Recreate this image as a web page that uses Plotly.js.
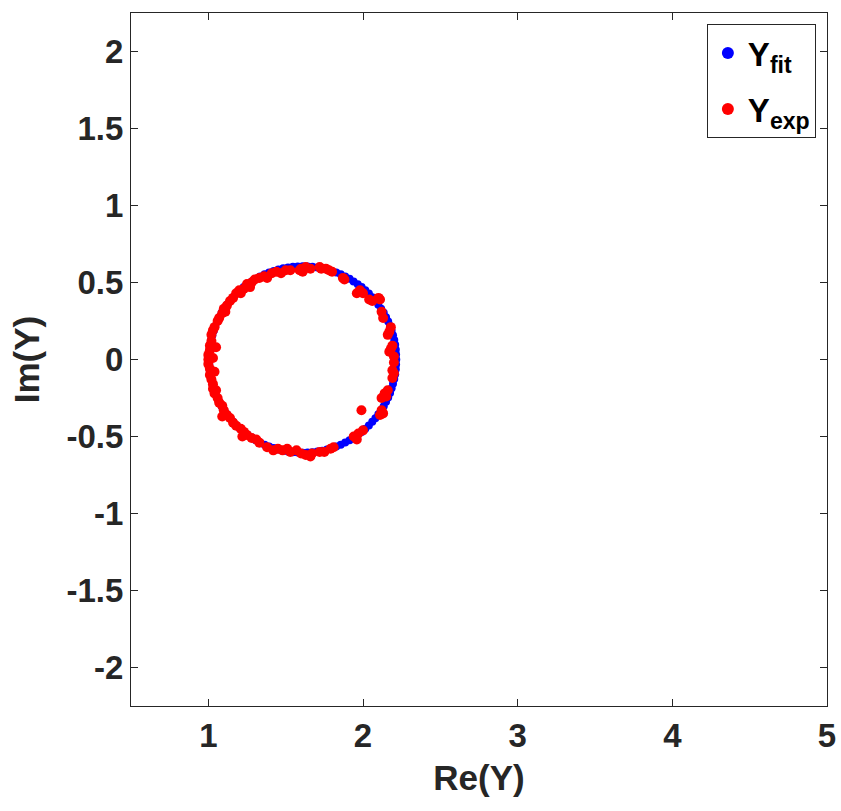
<!DOCTYPE html>
<html>
<head>
<meta charset="utf-8">
<script src="https://cdn.plot.ly/plotly-3.0.1.min.js"></script>
<style>
html,body{margin:0;padding:0;background:#fff;}
#chart{width:841px;height:811px;}
</style>
</head>
<body>
<div id="chart"></div>
<script>
// Fitted admittance (blue)
const fitRe = [2.215,2.214,2.212,2.208,2.202,2.194,2.185,2.175,2.163,2.149,2.134,2.117,2.099,2.080,2.060,2.038,2.015,1.991,1.966,1.939,1.913,1.885,1.856,1.827,1.797,1.767,1.736,1.705,1.673,1.642,1.610,1.578,1.547,1.515,1.484,1.453,1.423,1.393,1.364,1.335,1.307,1.281,1.254,1.229,1.205,1.182,1.160,1.140,1.121,1.103,1.086,1.071,1.057,1.045,1.035,1.026,1.018,1.012,1.008,1.006,1.005,
  1.006,1.008,1.012,1.018,1.026,1.035,1.045,1.057,1.071,1.086,1.103,1.121,1.140,1.160,1.182,1.205,1.229,1.254,1.281,1.307,1.335,1.364,1.393,1.423,1.453,1.484,1.515,1.547,1.578,1.610,1.642,1.673,1.705,1.736,1.767,1.797,1.827,1.856,1.885,1.913,1.939,1.966,1.991,2.015,2.038,2.060,2.080,2.099,2.117,2.134,2.149,2.163,2.175,2.185,2.194,2.202,2.208,2.212,2.214];
const fitIm = [0,0.032,0.063,0.095,0.126,0.157,0.187,0.217,0.246,0.275,0.303,0.329,0.356,0.381,0.405,0.428,0.450,0.470,0.489,0.507,0.524,0.539,0.553,0.565,0.575,0.584,0.592,0.598,0.602,0.604,0.605,0.604,0.602,0.598,0.592,0.584,0.575,0.565,0.553,0.539,0.524,0.507,0.489,0.470,0.450,0.428,0.405,0.381,0.356,0.329,0.303,0.275,0.246,0.217,0.187,0.157,0.126,0.095,0.063,0.032,0,
  -0.032,-0.063,-0.095,-0.126,-0.157,-0.187,-0.217,-0.246,-0.275,-0.303,-0.329,-0.356,-0.381,-0.405,-0.428,-0.450,-0.470,-0.489,-0.507,-0.524,-0.539,-0.553,-0.565,-0.575,-0.584,-0.592,-0.598,-0.602,-0.604,-0.605,-0.604,-0.602,-0.598,-0.592,-0.584,-0.575,-0.565,-0.553,-0.539,-0.524,-0.507,-0.489,-0.470,-0.450,-0.428,-0.405,-0.381,-0.356,-0.329,-0.303,-0.275,-0.246,-0.217,-0.187,-0.157,-0.126,-0.095,-0.063,-0.032];

// Measured admittance (red)
const expRe = [1.33,1.30,1.28,1.25,1.23,1.20,1.18,1.16,1.14,1.12,1.10,1.09,1.07,1.06,1.04,1.03,1.02,1.02,1.01,1.01,1.00,1.00,
  1.05,1.03,1.27,1.21,1.11,
  1.00,1.01,1.01,1.02,1.03,1.03,1.04,1.06,1.07,1.09,1.10,1.12,1.14,1.16,1.18,1.21,1.23,1.25,1.28,1.31,1.33,
  1.04,1.05,1.09,1.22,
  1.38,1.42,1.45,1.48,1.51,1.53,1.57,1.60,1.63,1.66,1.67,1.72,1.75,1.79,1.81,
  1.94,1.97,2.00,1.96,2.11,2.12,2.13,1.99,2.12,2.14,2.16,2.15,2.19,2.20,2.19,2.20,2.20,
  2.18,2.19,2.17,2.17,2.18,2.16,2.13,2.12,2.11,2.10,2.06,2.04,1.98,2.00,1.96,1.87,1.88,
  1.80,1.78,1.76,1.73,1.72,1.66,1.63,1.61,1.60,1.59,1.53,1.50,1.47,1.44,1.41,1.38,1.36];
const expIm = [0.53,0.52,0.50,0.49,0.46,0.45,0.43,0.40,0.38,0.35,0.33,0.30,0.27,0.25,0.21,0.19,0.16,0.12,0.09,0.06,0.03,0.00,
  0.08,0.01,0.47,0.43,0.31,
  -0.03,-0.06,-0.10,-0.13,-0.16,-0.19,-0.22,-0.25,-0.28,-0.30,-0.33,-0.36,-0.38,-0.41,-0.43,-0.45,-0.47,-0.49,-0.51,-0.52,-0.54,
  -0.08,-0.20,-0.37,-0.50,
  -0.57,-0.59,-0.58,-0.59,-0.58,-0.60,-0.59,-0.61,-0.62,-0.63,-0.61,-0.60,-0.60,-0.58,-0.57,
  -0.50,-0.48,-0.46,-0.52,-0.36,-0.33,-0.35,-0.33,-0.25,-0.22,-0.20,-0.24,-0.12,-0.09,-0.07,-0.02,0.02,
  0.07,0.09,0.05,0.18,0.21,0.16,0.27,0.31,0.39,0.40,0.38,0.39,0.45,0.43,0.43,0.53,0.52,
  0.57,0.58,0.59,0.59,0.60,0.59,0.60,0.57,0.59,0.58,0.58,0.58,0.56,0.57,0.56,0.53,0.54];

const xTickVals = [1,2,3,4,5];
const xTickText = ['1','2','3','4','5'];
const yTickVals = [-2,-1.5,-1,-0.5,0,0.5,1,1.5,2];
const yTickText = ['-2','-1.5','-1','-0.5','0','0.5','1','1.5','2'];

const fontFam = 'Liberation Sans, Arial, Helvetica, sans-serif';
const ink = '#262626';

const traces = [
  {x: fitRe, y: fitIm, type: 'scatter', mode: 'markers', name: 'Y<sub>fit</sub>', legendgroup: 'fit',
   marker: {color: '#0000ff', size: 8}},
  {x: expRe, y: expIm, type: 'scatter', mode: 'markers', name: 'Y<sub>exp</sub>', legendgroup: 'exp',
   marker: {color: '#ff0000', size: 10}}
];

const axisCommon = {
  showgrid: false, zeroline: false, showline: true, linecolor: ink, linewidth: 1,
  mirror: 'ticks', ticks: 'inside', ticklen: 7, tickwidth: 1, tickcolor: ink,
  tickfont: {family: fontFam, size: 33, color: ink, weight: 'bold'},
  automargin: false
};

const layout = {
  width: 841, height: 811,
  margin: {l: 131, r: 14, t: 13, b: 105, pad: 0},
  paper_bgcolor: '#ffffff', plot_bgcolor: '#ffffff',
  showlegend: true,
  xaxis: Object.assign({}, axisCommon, {
    range: [0.5, 5], tickmode: 'array', tickvals: xTickVals, ticktext: xTickText,
    title: {text: 'Re(Y)', font: {family: fontFam, size: 35, color: ink, weight: 'bold'}, standoff: 12}
  }),
  yaxis: Object.assign({}, axisCommon, {
    range: [-2.25, 2.25], tickmode: 'array', tickvals: yTickVals, ticktext: yTickText,
    title: {text: 'Im(Y)', font: {family: fontFam, size: 35, color: ink, weight: 'bold'}, standoff: 16}
  }),
  legend: {
    x: 0.984, y: 0.984, xanchor: 'right', yanchor: 'top',
    bgcolor: '#ffffff', bordercolor: ink, borderwidth: 1,
    font: {family: fontFam, size: 33, color: '#000000', weight: 'bold'},
    itemwidth: 30, tracegroupgap: 10, itemsizing: 'constant'
  }
};

Plotly.newPlot('chart', traces, layout, {displayModeBar: false, staticPlot: true});
</script>
</body>
</html>
